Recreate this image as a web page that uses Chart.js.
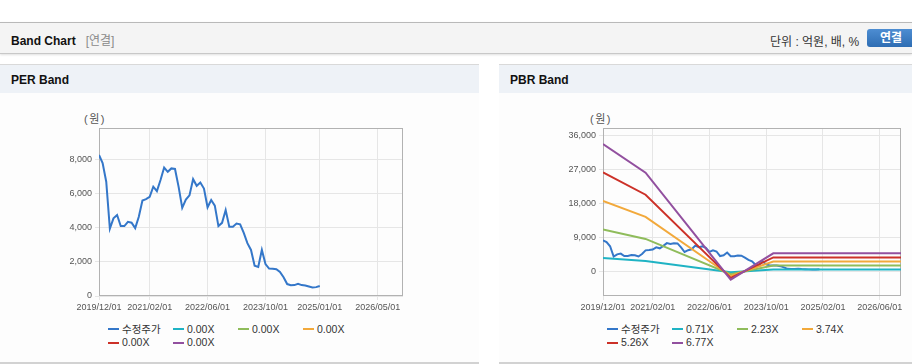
<!DOCTYPE html>
<html lang="ko">
<head>
<meta charset="utf-8">
<title>Band Chart</title>
<script src="https://cdn.jsdelivr.net/npm/chart.js@4.4.1/dist/chart.umd.min.js"></script>
<style>
  html, body { margin: 0; padding: 0; }
  body { width: 912px; height: 364px; position: relative; overflow: hidden; background: #fff;
         font-family: "Liberation Sans", Arial, "Noto Sans CJK KR", sans-serif; color: #222; }
  .head { position: absolute; left: 0; top: 22px; width: 912px; height: 30px; background: #f4f4f4;
          border-top: 1px solid #b9b9b9; border-bottom: 1px solid #c8c8c8; box-shadow: 0 1px 2px rgba(0,0,0,.12); }
  .head .ttl { position: absolute; left: 11px; top: 8px; font-size: 12px; font-weight: bold; color: #111; }
  .head .sub { color: #8a8a8a; font-weight: normal; margin-left: 10px; }
  .head .unit { position: absolute; left: 770px; top: 9px; font-size: 12px; color: #333; white-space: nowrap; }
  .head .btn { position: absolute; left: 867px; top: 6px; width: 50px; height: 18px; border-radius: 3px;
               background: linear-gradient(#4d8dd2, #2e6db3); color: #fff; font-weight: bold; font-size: 12px;
               line-height: 18px; text-indent: 13px; }
  .panel { position: absolute; top: 64px; height: 297px; background: #fdfdfd;
           border-top: 1px solid #d9d9d9; border-bottom: 2px solid #d2d2d2; }
  .panel .bar { height: 28px; background: #eef2f7; font-size: 12px; font-weight: bold; line-height: 31px;
                padding-left: 11px; color: #111; }
  .box { position: absolute; top: 93px; height: 227px; }
  .unitlbl { position: absolute; top: 110px; font-size: 11px; color: #555; letter-spacing: 1.5px; }
  .legend { position: absolute; top: 323px; font-size: 10.5px; color: #333; }
  .legend .it { position: absolute; white-space: nowrap; height: 13px; line-height: 13px; }
  .legend .mk { display: inline-block; width: 11px; height: 2px; vertical-align: middle; margin-right: 3px; position: relative; top: -1px; }
</style>
</head>
<body>
<div class="head">
  <div class="ttl">Band Chart<span class="sub">[연결]</span></div>
  <div class="unit">단위 : 억원, 배, %</div>
  <div class="btn">연결</div>
</div>

<div class="panel" style="left:0;width:479px"><div class="bar">PER Band</div></div>
<div class="panel" style="left:499px;width:413px"><div class="bar">PBR Band</div></div>

<div class="unitlbl" style="left:84px">(원)</div>
<div class="unitlbl" style="left:590px">(원)</div>

<div class="box" style="left:0;width:479px"><canvas id="per" width="479" height="227"></canvas></div>
<div class="box" style="left:499px;width:413px"><canvas id="pbr" width="413" height="227"></canvas></div>

<div class="legend" id="perLegend" style="left:108px"></div>
<div class="legend" id="pbrLegend" style="left:607px"></div>

<script>
// monthly adjusted close, starting 2019/12
var PRICE_START = '2019/12';
var price = [8270, 7790, 6700, 3950, 4550, 4750, 4100, 4100, 4350, 4300,
             3980, 4650, 5600, 5680, 5820, 6410, 6150, 6800, 7530, 7280,
             7480, 7450, 6400, 5170, 5650, 5900, 6850, 6460, 6650, 6300,
             5200, 5630, 5300, 4100, 4290, 5040, 4060, 4060, 4250, 4200,
             3700, 3100, 2700, 1780, 1700, 2700, 1870, 1610, 1600, 1570,
             1410, 1100, 700, 630, 640, 720, 640, 620, 560, 500,
             520, 590];

var perBandNames = ['0.00X', '0.00X', '0.00X', '0.00X', '0.00X'];
var pbrBandNames = ['0.71X', '2.23X', '3.74X', '5.26X', '6.77X'];

// PBR band vertices
var bandMonths = ['2019/12', '2020/12', '2022/12', '2023/12', '2026/12'];
var band071 = [3560, 2750, -230, 500, 500];
var band223 = [11150, 8640, -710, 1580, 1580];
var band374 = [18680, 14480, -1200, 2660, 2660];
var band526 = [26260, 20360, -1690, 3730, 3730];
var band677 = [33780, 26200, -2170, 4810, 4810];

var perTickLabels = ['2019/12/01', '2021/02/01', '2022/06/01', '2023/10/01', '2025/01/01', '2026/05/01'];
var pbrTickLabels = ['2019/12/01', '2021/02/01', '2022/06/01', '2023/10/01', '2025/02/01', '2026/06/01'];
var perYTicks = [0, 2000, 4000, 6000, 8000];
var pbrYTicks = [0, 9000, 18000, 27000, 36000];

var COLORS = ['#3477c9', '#1fb3c4', '#8fbc5b', '#f2a93b', '#cc3128', '#92509f'];

function monthIndex(s) {
  var p = s.split('/');
  return (parseInt(p[0], 10) - 2019) * 12 + parseInt(p[1], 10) - 12;
}

var start = monthIndex(PRICE_START);
var priceData = price.map(function (v, i) { return { x: start + i, y: v }; });
function bandData(vals) { return vals.map(function (v, i) { return { x: monthIndex(bandMonths[i]), y: v }; }); }

var frame = {
  id: 'frame',
  beforeDatasetsDraw: function (chart) {
    var a = chart.chartArea, c = chart.ctx;
    c.save();
    c.strokeStyle = '#b2b2b2';
    c.lineWidth = 1;
    c.strokeRect(a.left + 0.5, a.top + 0.5, a.right - a.left - 1, a.bottom - a.top - 1);
    c.restore();
  }
};

function line(label, color, data, order) {
  return { label: label, data: data, borderColor: color, backgroundColor: color, borderWidth: 2,
           pointRadius: 0, tension: 0, fill: false, order: order };
}

function make(id, datasets, xLabels, yTicks, yMin, yMax, axisW, padRight) {
  var tickFont = { family: '"Liberation Sans", Arial, sans-serif', size: 9 };
  return new Chart(document.getElementById(id).getContext('2d'), {
    type: 'line',
    data: { datasets: datasets },
    plugins: [frame],
    options: {
      responsive: false, animation: false, events: [],
      layout: { padding: { top: 35, right: padRight, left: 0, bottom: 0 } },
      plugins: { legend: { display: false }, tooltip: { enabled: false } },
      scales: {
        x: {
          type: 'linear', min: 0, max: 84,
          grid: { color: '#e6e6e6', tickLength: 4 },
          border: { display: false },
          afterBuildTicks: function (s) { s.ticks = xLabels.map(function (l) { return { value: monthIndex(l.slice(0, 7)) }; }); },
          afterFit: function (s) { s.height = 24; s.paddingLeft = 0; s.paddingRight = 0; },
          ticks: { color: '#555', font: tickFont, padding: 2, maxRotation: 0, autoSkip: false,
                   callback: function (v) { for (var i = 0; i < xLabels.length; i++) { if (monthIndex(xLabels[i].slice(0, 7)) === v) return xLabels[i]; } return ''; } }
        },
        y: {
          min: yMin, max: yMax,
          grid: { color: '#e6e6e6', tickLength: 4 },
          border: { display: false },
          afterBuildTicks: function (s) { s.ticks = yTicks.map(function (v) { return { value: v }; }); },
          afterFit: function (s) { s.width = axisW; s.paddingTop = 0; s.paddingBottom = 0; },
          ticks: { color: '#555', font: tickFont, padding: 3,
                   callback: function (v) { return v.toLocaleString('en-US'); } }
        }
      }
    }
  });
}

var perSets = [line('수정주가', COLORS[0], priceData, 6)];
perBandNames.forEach(function (n, i) { perSets.push(line(n, COLORS[i + 1], [], 5 - i)); });

var pbrBands = [band071, band223, band374, band526, band677];
var pbrSets = [line('수정주가', COLORS[0], priceData, 6)];
pbrBandNames.forEach(function (n, i) { pbrSets.push(line(n, COLORS[i + 1], bandData(pbrBands[i]), 5 - i)); });

var perChart = make('per', perSets, perTickLabels, perYTicks, 0, 9850, 99, 76);
var pbrChart = make('pbr', pbrSets, pbrTickLabels, pbrYTicks, -6500, 38050, 104, 11);

function legend(elId, chart) {
  var el = document.getElementById(elId);
  el.innerHTML = chart.data.datasets.map(function (d, i) {
    var left = (i % 4) * 65, top = Math.floor(i / 4) * 13.3;
    return '<div class="it" style="left:' + left + 'px;top:' + top + 'px"><span class="mk" style="background:' +
      d.borderColor + '"></span>' + d.label + '</div>';
  }).join('');
}
legend('perLegend', perChart);
legend('pbrLegend', pbrChart);
</script>
</body>
</html>
